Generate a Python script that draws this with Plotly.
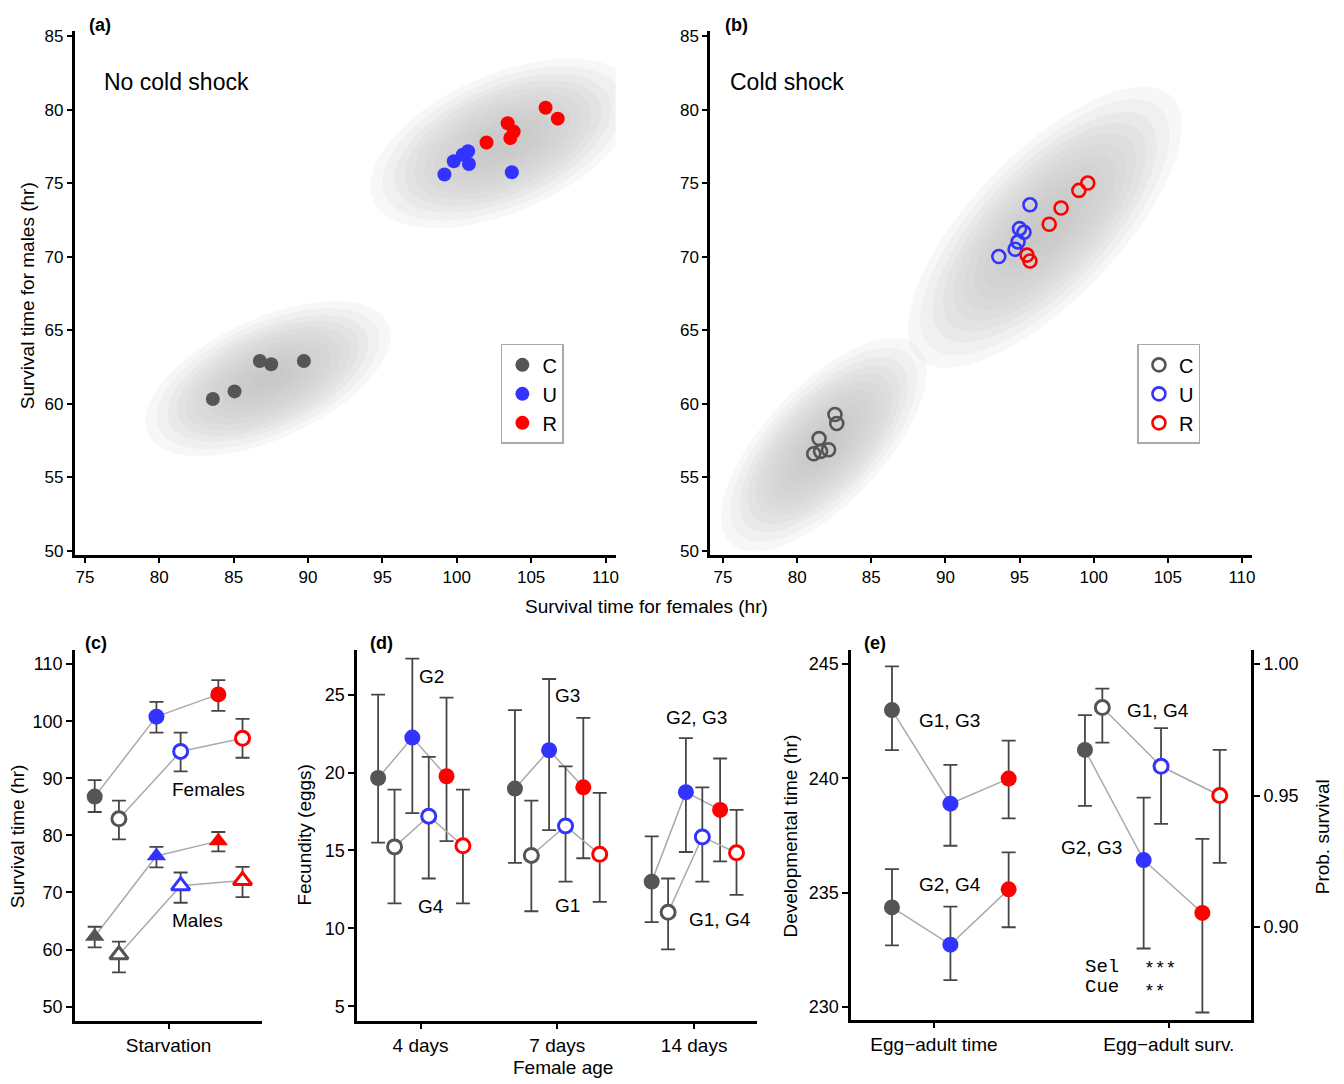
import numpy as np
import plotly.graph_objects as go

W, H = 1344, 1084
FONT = "Liberation Sans, Arial, sans-serif"
MONO = "Liberation Mono, Courier New, monospace"

C_COL = "rgb(85,85,85)"
U_COL = "rgb(51,51,255)"
R_COL = "rgb(255,0,0)"
GROUP_COLORS = [C_COL, U_COL, R_COL]
ERR_COL = "rgb(70,70,70)"
LINK_COL = "rgb(170,170,170)"

# ---------------- data: panel (a) no cold shock (female, male survival) ----------
a_C_x = [83.6, 85.06, 86.76, 87.52, 89.72]
a_C_y = [60.31, 60.83, 62.9, 62.68, 62.9]
a_U_x = [99.17, 99.8, 100.4, 100.76, 100.82, 103.7]
a_U_y = [75.58, 76.48, 76.93, 77.16, 76.3, 75.74]
a_R_x = [102.0, 103.42, 103.83, 103.6, 105.97, 106.79]
a_R_y = [77.76, 79.07, 78.5, 78.06, 80.12, 79.38]

# ---------------- data: panel (b) cold shock -------------------------------------
b_C_x = [82.55, 82.67, 81.48, 81.12, 81.58, 82.12]
b_C_y = [59.26, 58.65, 57.62, 56.59, 56.75, 56.86]
b_U_x = [93.6, 94.7, 94.9, 95.0, 95.3, 95.7]
b_U_y = [70.0, 70.5, 71.0, 71.9, 71.65, 73.52]
b_R_x = [95.5, 95.7, 97.0, 97.8, 99.0, 99.6]
b_R_y = [70.1, 69.7, 72.2, 73.3, 74.5, 75.0]

# posterior clouds: centre x, centre y, sd x, sd y, correlation
cloud_a_low = [87.3, 61.7, 2.5, 1.6, 0.55]
cloud_a_high = [103.1, 77.7, 2.7, 1.75, 0.5]
cloud_b_low = [81.8, 57.2, 2.1, 2.2, 0.68]
cloud_b_high = [96.7, 72.0, 2.8, 2.9, 0.72]

# ---------------- data: panel (c) starvation (C, U, R) ------------------------------
c_groups = ["C", "U", "R"]
c_fem_sel = [86.8, 100.8, 104.7]
c_fem_sel_hi = [89.7, 103.4, 107.2]
c_fem_sel_lo = [84.1, 98.0, 101.8]
c_fem_cue = [82.9, 94.7, 97.0]
c_fem_cue_hi = [86.1, 98.0, 100.4]
c_fem_cue_lo = [79.3, 91.2, 93.6]
c_mal_sel = [62.3, 76.4, 79.0]
c_mal_sel_hi = [64.0, 78.0, 80.6]
c_mal_sel_lo = [60.4, 74.4, 77.2]
c_mal_cue = [59.1, 71.2, 72.1]
c_mal_cue_hi = [61.4, 73.5, 74.5]
c_mal_cue_lo = [56.0, 68.2, 69.2]

# ---------------- data: panel (d) fecundity by female age -------------------------
d_ages = ["4 days", "7 days", "14 days"]
d_C_sel = [19.65, 18.97, 13.0]
d_C_sel_hi = [25.0, 24.0, 15.9]
d_C_sel_lo = [15.5, 14.2, 10.4]
d_C_cue = [15.23, 14.68, 11.03]
d_C_cue_hi = [18.9, 18.2, 13.2]
d_C_cue_lo = [11.6, 11.1, 8.65]
d_U_sel = [22.24, 21.43, 18.74]
d_U_sel_hi = [27.3, 26.0, 22.2]
d_U_sel_lo = [17.4, 16.3, 14.9]
d_U_cue = [17.2, 16.57, 15.87]
d_U_cue_hi = [21.0, 20.4, 19.05]
d_U_cue_lo = [13.2, 13.0, 13.0]
d_R_sel = [19.76, 19.05, 17.6]
d_R_sel_hi = [24.8, 23.5, 20.9]
d_R_sel_lo = [15.6, 14.5, 14.3]
d_R_cue = [15.3, 14.75, 14.85]
d_R_cue_hi = [18.9, 18.7, 17.6]
d_R_cue_lo = [11.6, 11.7, 12.15]

# ---------------- data: panel (e) development ----------------------------------
e_cats = ["Egg\u2212adult time", "Egg\u2212adult surv."]
e_time_hi_grp = [242.99, 238.89, 239.99]
e_time_hi_grp_hi = [244.9, 240.59, 241.65]
e_time_hi_grp_lo = [241.24, 237.05, 238.25]
e_time_lo_grp = [234.35, 232.72, 235.14]
e_time_lo_grp_hi = [236.03, 234.38, 236.76]
e_time_lo_grp_lo = [232.69, 231.17, 233.48]
e_surv_sel = [0.9673, 0.9255, 0.9054]
e_surv_sel_hi = [0.9805, 0.9492, 0.9335]
e_surv_sel_lo = [0.9461, 0.8919, 0.8676]
e_surv_cue = [0.9834, 0.9611, 0.950]
e_surv_cue_hi = [0.9906, 0.9756, 0.9673]
e_surv_cue_lo = [0.9701, 0.9392, 0.9244]

# ---------------- layout helpers ----------------------------------------------------
def fx(p):
    return p / W


def fy(p):
    return 1 - p / H


fig = go.Figure()


def ellipse(params, k, n=120):
    mx, my, sx, sy, r = params
    t = np.linspace(0, 2 * np.pi, n)
    ex = mx + k * sx * np.cos(t)
    ey = my + k * sy * (r * np.cos(t) + np.sqrt(1 - r * r) * np.sin(t))
    return ex, ey


CLOUD_LEVELS = [3.3, 3.0, 2.7, 2.45, 2.2, 1.95, 1.7, 1.45, 1.2, 0.95, 0.7, 0.45]


def add_cloud(params, xa, ya):
    for k in CLOUD_LEVELS:
        ex, ey = ellipse(params, k)
        fig.add_trace(go.Scatter(x=ex, y=ey, mode="lines", fill="toself",
                                 fillcolor="rgba(190,190,190,0.12)", line=dict(width=0),
                                 hoverinfo="skip", showlegend=False, xaxis=xa, yaxis=ya))


add_cloud(cloud_a_low, "x", "y")
add_cloud(cloud_a_high, "x", "y")
add_cloud(cloud_b_low, "x2", "y2")
add_cloud(cloud_b_high, "x2", "y2")

for name, xs, ys, col in [("C", a_C_x, a_C_y, C_COL), ("U", a_U_x, a_U_y, U_COL), ("R", a_R_x, a_R_y, R_COL)]:
    fig.add_trace(go.Scatter(x=xs, y=ys, mode="markers", name=name, legend="legend",
                             marker=dict(size=14, color=col), xaxis="x", yaxis="y"))

for name, xs, ys, col in [("C", b_C_x, b_C_y, C_COL), ("U", b_U_x, b_U_y, U_COL), ("R", b_R_x, b_R_y, R_COL)]:
    fig.add_trace(go.Scatter(x=xs, y=ys, mode="markers", name=name, legend="legend2",
                             marker=dict(size=13, symbol="circle-open", color=col, line=dict(width=2.6)),
                             xaxis="x2", yaxis="y2"))


def series(xpos, y, hi, lo, xa, ya, filled, symbol="circle", size=16):
    # connecting line
    fig.add_trace(go.Scatter(x=xpos, y=y, mode="lines", line=dict(color=LINK_COL, width=1.5),
                             hoverinfo="skip", showlegend=False, xaxis=xa, yaxis=ya))
    up = [h - v for h, v in zip(hi, y)]
    dn = [v - l for v, l in zip(y, lo)]
    if filled:
        mk = dict(size=size, symbol=symbol, color=GROUP_COLORS, line=dict(width=0))
    else:
        mk = dict(size=size - 2, symbol=symbol, color="white", line=dict(color=GROUP_COLORS, width=3))
    fig.add_trace(go.Scatter(x=xpos, y=y, mode="markers", marker=mk, showlegend=False,
                             error_y=dict(type="data", symmetric=False, array=up, arrayminus=dn,
                                          color=ERR_COL, thickness=1.8, width=7),
                             xaxis=xa, yaxis=ya))


# panel (c): positions within the single "Starvation" category
c_sel_pos = [0.106, 0.435, 0.765]
c_cue_pos = [0.235, 0.564, 0.894]
series(c_sel_pos, c_fem_sel, c_fem_sel_hi, c_fem_sel_lo, "x3", "y3", True)
series(c_cue_pos, c_fem_cue, c_fem_cue_hi, c_fem_cue_lo, "x3", "y3", False)
series(c_sel_pos, c_mal_sel, c_mal_sel_hi, c_mal_sel_lo, "x3", "y3", True, "triangle-up", 17)
series(c_cue_pos, c_mal_cue, c_mal_cue_hi, c_mal_cue_lo, "x3", "y3", False, "triangle-up", 18)

# panel (d)
d_off = {"Csel": -0.31, "Ccue": -0.19, "Usel": -0.06, "Ucue": 0.06, "Rsel": 0.19, "Rcue": 0.31}
for i in range(3):
    base = i + 1
    series([base + d_off["Csel"], base + d_off["Usel"], base + d_off["Rsel"]],
           [d_C_sel[i], d_U_sel[i], d_R_sel[i]],
           [d_C_sel_hi[i], d_U_sel_hi[i], d_R_sel_hi[i]],
           [d_C_sel_lo[i], d_U_sel_lo[i], d_R_sel_lo[i]], "x4", "y4", True)
    series([base + d_off["Ccue"], base + d_off["Ucue"], base + d_off["Rcue"]],
           [d_C_cue[i], d_U_cue[i], d_R_cue[i]],
           [d_C_cue_hi[i], d_U_cue_hi[i], d_R_cue_hi[i]],
           [d_C_cue_lo[i], d_U_cue_lo[i], d_R_cue_lo[i]], "x4", "y4", False)

# panel (e)
e_time_pos = [1 - 0.179, 1 + 0.070, 1 + 0.318]
e_sel_pos = [2 - 0.357, 2 - 0.107, 2 + 0.143]
e_cue_pos = [2 - 0.283, 2 - 0.033, 2 + 0.217]
series(e_time_pos, e_time_hi_grp, e_time_hi_grp_hi, e_time_hi_grp_lo, "x5", "y5", True)
series(e_time_pos, e_time_lo_grp, e_time_lo_grp_hi, e_time_lo_grp_lo, "x5", "y5", True)
series(e_sel_pos, e_surv_sel, e_surv_sel_hi, e_surv_sel_lo, "x5", "y6", True)
series(e_cue_pos, e_surv_cue, e_surv_cue_hi, e_surv_cue_lo, "x5", "y6", False)

# ---------------- axes ----------------------------------------------------------
def axis(domain, rng, anchor, tickvals, ticktext=None, lw=3, tl=5, fs=17, **kw):
    d = dict(domain=domain, range=rng, anchor=anchor, tickvals=tickvals,
             showline=True, linecolor="black", linewidth=lw, ticks="outside",
             ticklen=tl, tickwidth=2, tickcolor="black", showgrid=False, zeroline=False,
             tickfont=dict(family=FONT, size=fs, color="black"), fixedrange=True)
    if ticktext is not None:
        d["ticktext"] = ticktext
    d.update(kw)
    return d


top_y = [fy(556), fy(27)]
bot_y = [fy(1026), fy(652)]
layout_axes = dict(
    xaxis=axis([fx(75), fx(617)], [74.32, 110.68], "y", list(range(75, 111, 5))),
    yaxis=axis(top_y, [49.71, 85.36], "x", list(range(50, 86, 5))),
    xaxis2=axis([fx(712), fx(1255)], [74.15, 110.69], "y2", list(range(75, 111, 5))),
    yaxis2=axis(top_y, [49.71, 85.36], "x2", list(range(50, 86, 5))),
    xaxis3=axis([fx(75), fx(263)], [0, 1], "y3", [0.5], ["Starvation"], lw=2.5, tl=6, fs=19),
    yaxis3=axis(bot_y, [47.57, 112.48], "x3", list(range(50, 111, 10)), lw=2.5, tl=6, fs=18),
    xaxis4=axis([fx(358), fx(759)], [0.537, 3.462], "y4", [1, 2, 3], d_ages, lw=2.5, tl=6, fs=19),
    yaxis4=axis(bot_y, [4.09, 27.86], "x4", [5, 10, 15, 20, 25], lw=2.5, tl=6, fs=18),
    xaxis5=axis([fx(853), fx(1254)], [0.647, 2.351], "y5", [1, 2], e_cats, lw=2.5, tl=6, fs=19),
    yaxis5=axis([fy(1025), fy(652)], [229.44, 245.62], "x5", [230, 235, 240, 245], lw=2.5, tl=6, fs=18),
    yaxis6=axis([fy(1025), fy(652)], [0.86493, 1.00526], "x5", [0.90, 0.95, 1.00],
                ["0.90", "0.95", "1.00"], lw=2.5, tl=6, fs=18, overlaying="y5", side="right"),
)

# ---------------- annotations --------------------------------------------------
anns = []


def ann(text, x, y, size=19, angle=0, family=FONT, xanchor="center"):
    anns.append(dict(text=text, x=fx(x), y=fy(y), xref="paper", yref="paper",
                     xanchor=xanchor, yanchor="middle", showarrow=False, textangle=angle,
                     font=dict(family=family, size=size, color="black")))


for lab, x, y in [("(a)", 100, 21), ("(b)", 738, 21), ("(c)", 96, 645), ("(d)", 382, 645), ("(e)", 877, 645)]:
    ann("<b>" + lab + "</b>", x, y, size=18)

ann("No cold shock", 177, 79, size=23)
ann("Cold shock", 789, 79, size=23)
ann("Survival time for males (hr)", 27, 294, angle=-90)
ann("Survival time for females (hr)", 648, 608)

ann("Survival time (hr)", 17, 840, angle=-90)
ann("Females", 209, 793)
ann("Males", 198, 925)

ann("Fecundity (eggs)", 305, 838, angle=-90)
ann("Female age", 564, 1073)
for t, x, y in [("G2", 432, 679), ("G4", 432, 911), ("G3", 569, 698), ("G1", 569, 910),
                ("G2, G3", 698, 720), ("G1, G4", 722, 924)]:
    ann(t, x, y)

ann("Developmental time (hr)", 792, 840, angle=-90)
ann("Prob. survival", 1325, 841, angle=-90)
for t, x, y in [("G1, G3", 952, 723), ("G2, G4", 952, 889), ("G1, G4", 1161, 713), ("G2, G3", 1094, 851)]:
    ann(t, x, y)

ann("Sel", 1085, 972, size=19, family=MONO, xanchor="left")
ann("***", 1145, 974, size=18, family=MONO, xanchor="left")
ann("Cue", 1085, 992, size=19, family=MONO, xanchor="left")
ann("**", 1145, 997, size=18, family=MONO, xanchor="left")

legend_style = dict(font=dict(family=FONT, size=20, color="black"), bordercolor="rgb(170,170,170)",
                    borderwidth=1.5, bgcolor="rgba(255,255,255,0)", xanchor="left", yanchor="top",
                    itemwidth=30, tracegroupgap=0)

fig.update_layout(
    width=W, height=H, margin=dict(l=0, r=0, t=0, b=0),
    paper_bgcolor="white", plot_bgcolor="rgba(0,0,0,0)",
    font=dict(family=FONT, size=18, color="black"),
    annotations=anns,
    legend=dict(x=fx(502), y=fy(343), **legend_style),
    legend2=dict(x=fx(1140), y=fy(343), **legend_style),
    **layout_axes,
)

fig.write_html("out.html", config={"displayModeBar": False},
               post_script="document.body.style.margin='0';document.body.style.overflow='hidden';")
